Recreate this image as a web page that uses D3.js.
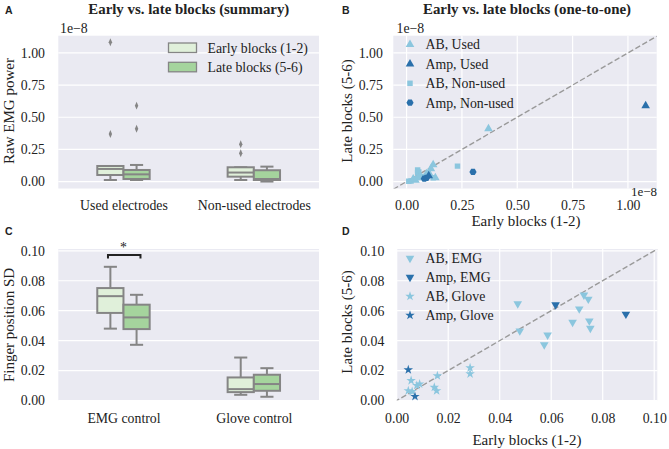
<!DOCTYPE html>
<html><head><meta charset="utf-8">
<script src="https://cdn.jsdelivr.net/npm/d3@7/dist/d3.min.js"></script>
<style>body{margin:0;background:#fff}svg{display:block}text{font-family:"Times New Roman","Liberation Serif",serif;fill:#222}</style>
</head><body>
<script>
// ---------- DATA ----------
const catsA = ["Used electrodes", "Non-used electrodes"];
const hues = ["Early blocks (1-2)", "Late blocks (5-6)"];
// box stats [low whisker, q1, median, q3, high whisker] (x1e-8)
const boxEarlyA = [[0.012, 0.051, 0.098, 0.121, 0.121], [0.012, 0.038, 0.07, 0.111, 0.111]];
const boxLateA  = [[0.012, 0.02, 0.056, 0.09, 0.129], [0.0, 0.012, 0.02, 0.088, 0.116]];
const outEarlyA = [[1.083, 0.37], [0.29, 0.22]];
const outLateA  = [[0.59, 0.41], []];
const ticksA = [0, 0.25, 0.5, 0.75, 1.0];

const catsC = ["EMG control", "Glove control"];
const boxEarlyC = [[0.048, 0.0585, 0.0697, 0.0751, 0.0893], [0.0038, 0.0056, 0.0076, 0.0154, 0.0287]];
const boxLateC  = [[0.0372, 0.0477, 0.0555, 0.064, 0.0706], [0.0025, 0.0065, 0.011, 0.0172, 0.0216]];
const ticksC = [0, 0.02, 0.04, 0.06, 0.08, 0.10];

// Panel B scatter (early, late) x1e-8
const bLabels = ["AB, Used", "Amp, Used", "AB, Non-used", "Amp, Non-used"];
const bABUsed = [[0.37,0.41],[0.12,0.13],[0.11,0.10],[0.10,0.07],[0.06,0.05],[0.05,0.03],[0.03,0.02],[0.09,0.06],[0.04,0.01],[0.13,0.03]];
const bAmpUsed = [[1.08,0.59],[0.10,0.045]];
const bABNon = [[0.23,0.12],[0.05,0.09],[0.05,0.07],[0.12,0.03],[0.02,0.005],[0.01,0.002],[0.04,0.02],[0.07,0.04],[0.055,0.075]];
const bAmpNon = [[0.30,0.075],[0.08,0.022],[0.09,0.028]];

// Panel D scatter (early, late)
const dLabels = ["AB, EMG", "Amp, EMG", "AB, Glove", "Amp, Glove"];
const dABEMG = [[0.047,0.0646],[0.0478,0.0465],[0.0727,0.0705],[0.0709,0.0612],[0.0744,0.0677],[0.0683,0.0523],[0.0748,0.0532],[0.0752,0.0483],[0.0586,0.0437],[0.0573,0.0372]];
const dAmpEMG = [[0.0617,0.0639],[0.089,0.0577]];
const dABGlove = [[0.0285,0.0218],[0.0285,0.0178],[0.0158,0.0165],[0.0146,0.0088],[0.0155,0.0065],[0.0056,0.0133],[0.0078,0.0100],[0.0089,0.0110],[0.0045,0.0065],[0.006,0.006]];
const dAmpGlove = [[0.0045,0.0205],[0.0071,0.0027]];

// ---------- STYLE ----------
const W = 669, H = 449;
const BG = "#eaeaf2", GRID = "#ffffff";
const EARLY = "#e0f0da", LATE = "#a5d49d", EDGE = "#858585";
const LIGHT = "#8bc6de", DARK = "#2a70ab";
const FS = "13.8px", FL = "15px";

const svg = d3.select("body").append("svg").attr("width", W).attr("height", H);
const defs = svg.append("defs");

function panelLetter(t, x, y) {
  svg.append("text").text(t).attr("x", x).attr("y", y)
    .style("font-family", "'Liberation Sans',Arial,sans-serif").style("font-weight", "bold").style("font-size", "10.5px");
}
function title(t, x, y, len) {
  svg.append("text").text(t).attr("x", x).attr("y", y).attr("text-anchor", "middle")
    .attr("textLength", len).attr("lengthAdjust", "spacingAndGlyphs")
    .style("font-weight", "bold").style("font-size", "15px");
}
function ylabel(t, x, y) {
  svg.append("text").text(t).attr("transform", `translate(${x},${y}) rotate(-90)`)
    .attr("text-anchor", "middle").style("font-size", FL);
}
function xlabel(t, x, y) {
  svg.append("text").text(t).attr("x", x).attr("y", y).attr("text-anchor", "middle").style("font-size", FL);
}
function bgRect(x, y) {
  const [x0, x1] = x.range(), [y0, y1] = y.range();
  svg.append("rect").attr("x", x0).attr("y", y1).attr("width", x1 - x0).attr("height", y0 - y1).attr("fill", BG);
}
function hgrid(x, y, ticks) {
  const [x0, x1] = x.range();
  svg.append("g").selectAll("line").data(ticks).join("line")
    .attr("x1", x0).attr("x2", x1).attr("y1", d => y(d)).attr("y2", d => y(d))
    .attr("stroke", GRID).attr("stroke-width", 1.2);
}
function vgrid(x, y, ticks) {
  const [y0, y1] = y.range();
  svg.append("g").selectAll("line").data(ticks).join("line")
    .attr("y1", y0).attr("y2", y1).attr("x1", d => x(d)).attr("x2", d => x(d))
    .attr("stroke", GRID).attr("stroke-width", 1.2);
}
function styleTicks(g) {
  g.select(".domain").remove();
  g.selectAll("text").style("font-size", FS).style("font-family", "'Times New Roman','Liberation Serif',serif").attr("fill", "#222");
}
function yAxis(x, y, ticks, fmt, dx) {
  const g = svg.append("g").attr("transform", `translate(${x.range()[0] - dx},0)`)
    .call(d3.axisLeft(y).tickValues(ticks).tickFormat(fmt).tickSize(0).tickPadding(0));
  styleTicks(g);
}
function xAxis(x, y, ticks, fmt, dy) {
  const g = svg.append("g").attr("transform", `translate(0,${y.range()[0] + dy})`)
    .call(d3.axisBottom(x).tickValues(ticks).tickFormat(fmt).tickSize(0).tickPadding(0));
  styleTicks(g);
}
function drawBox(g, cx, bw, s, fill, y) {
  const [lo, q1, med, q3, hi] = s;
  const x0 = cx - bw / 2, x1 = cx + bw / 2, cw = bw / 2;
  const ln = (a, b, c, d) => g.append("line").attr("x1", a).attr("y1", b).attr("x2", c).attr("y2", d)
    .attr("stroke", EDGE).attr("stroke-width", 2);
  ln(cx, y(q3), cx, y(hi));
  ln(cx, y(q1), cx, y(lo));
  ln(cx - cw / 2, y(hi), cx + cw / 2, y(hi));
  ln(cx - cw / 2, y(lo), cx + cw / 2, y(lo));
  g.append("rect").attr("x", x0).attr("y", y(q3)).attr("width", bw).attr("height", y(q1) - y(q3))
    .attr("fill", fill).attr("stroke", EDGE).attr("stroke-width", 2);
  ln(x0, y(med), x1, y(med));
}
function outliers(g, cx, vals, y) {
  g.selectAll(null).data(vals).join("path")
    .attr("d", d3.symbol(d3.symbolDiamond, 18)())
    .attr("transform", d => `translate(${cx},${y(d)}) scale(0.75,1)`)
    .attr("fill", EDGE);
}
const fmt2 = d3.format(".2f");

// ---------- PANEL A ----------
{
  const x = d3.scalePoint().domain(catsA).range([58.3, 319]).padding(0.5);
  const xr = d3.scaleLinear().range([58.3, 319]);
  const y = d3.scaleLinear().domain([-0.054, 1.134]).range([188.5, 35.7]);
  bgRect(xr, y); hgrid(xr, y, ticksA);
  const g = svg.append("g");
  const bw = 26.2;
  catsA.forEach((c, i) => {
    drawBox(g, x(c) - bw / 2, bw, boxEarlyA[i], EARLY, y);
    drawBox(g, x(c) + bw / 2, bw, boxLateA[i], LATE, y);
    outliers(g, x(c) - bw / 2, outEarlyA[i], y);
    outliers(g, x(c) + bw / 2, outLateA[i], y);
  });
  yAxis(xr, y, ticksA, fmt2, 13.3);
  const gx = svg.append("g").attr("transform", `translate(0,${188.5 + 12})`)
    .call(d3.axisBottom(x).tickSize(0).tickPadding(0));
  styleTicks(gx);
  svg.append("text").text("1e\u22128").attr("x", 60).attr("y", 33).style("font-size", FS);
  // legend
  const leg = svg.append("g");
  [EARLY, LATE].forEach((c, i) => {
    leg.append("rect").attr("x", 168.5).attr("y", 43 + i * 19.3).attr("width", 28).attr("height", 9.5)
      .attr("fill", c).attr("stroke", EDGE).attr("stroke-width", 1.3);
    leg.append("text").text(hues[i]).attr("x", 207.5).attr("y", 52.5 + i * 19.3).style("font-size", FS);
  });
  title("Early vs. late blocks (summary)", 188.8, 13.5, 201);
  ylabel("Raw EMG power", 14, 111);
  panelLetter("A", 5, 14);
}

// ---------- PANEL C ----------
{
  const x = d3.scalePoint().domain(catsC).range([58.3, 319]).padding(0.5);
  const xr = d3.scaleLinear().range([58.3, 319]);
  const y = d3.scaleLinear().domain([0, 0.1012]).range([400.5, 249]);
  bgRect(xr, y); hgrid(xr, y, ticksC);
  const g = svg.append("g");
  const bw = 26.2;
  catsC.forEach((c, i) => {
    drawBox(g, x(c) - bw / 2, bw, boxEarlyC[i], EARLY, y);
    drawBox(g, x(c) + bw / 2, bw, boxLateC[i], LATE, y);
  });
  yAxis(xr, y, ticksC, fmt2, 13.3);
  const gx = svg.append("g").attr("transform", `translate(0,${400.5 + 12.3})`)
    .call(d3.axisBottom(x).tickSize(0).tickPadding(0));
  styleTicks(gx);
  // significance bracket
  const cx0 = x(catsC[0]);
  const bx0 = cx0 - 15.5, bx1 = cx0 + 17;
  svg.append("path").attr("d", `M${bx0},${258.5}V${255}H${bx1}V${258.5}`)
    .attr("fill", "none").attr("stroke", "#222").attr("stroke-width", 2);
  svg.append("text").text("*").attr("x", cx0).attr("y", 252).attr("text-anchor", "middle").style("font-size", FS);
  ylabel("Finger position SD", 14, 325);
  panelLetter("C", 5, 235);
}

// scatter helpers
const triUp = d3.symbol(d3.symbolTriangle, 32)();
function hexPath(r) {
  const p = d3.range(6).map(i => { const a = Math.PI / 3 * i; return [r * Math.cos(a), r * Math.sin(a)]; });
  return "M" + p.map(q => q.join(",")).join("L") + "Z";
}
function drawPts(g, data, x, y, path, color, rot) {
  g.selectAll(null).data(data).join("path").attr("d", path)
    .attr("transform", d => `translate(${x(d[0])},${y(d[1])})${rot ? " rotate(180)" : ""}`)
    .attr("fill", color).attr("stroke", "none");
}
function diag(x, y, id) {
  const [x0, x1] = x.range(), [y0, y1] = y.range();
  defs.append("clipPath").attr("id", id).append("rect").attr("x", x0).attr("y", y1).attr("width", x1 - x0).attr("height", y0 - y1);
  const lo = Math.min(x.domain()[0], y.domain()[0]) - 1, hi = Math.max(x.domain()[1], y.domain()[1]) + 1;
  svg.append("line").attr("clip-path", `url(#${id})`)
    .attr("x1", x(lo)).attr("y1", y(lo)).attr("x2", x(hi)).attr("y2", y(hi))
    .attr("stroke", "#9a9a9a").attr("stroke-width", 1.4).attr("stroke-dasharray", "5.5,2.5");
}

// ---------- PANEL B ----------
{
  const x = d3.scaleLinear().domain([-0.06, 1.13]).range([393.3, 656.7]);
  const y = d3.scaleLinear().domain([-0.054, 1.134]).range([188.5, 35.7]);
  bgRect(x, y); hgrid(x, y, ticksA); vgrid(x, y, ticksA);
  diag(x, y, "clipB");
  const g = svg.append("g").attr("clip-path", "url(#clipB)");
  const sq = d3.symbol(d3.symbolSquare, 30)();
  const hx = hexPath(3.6);
  drawPts(g, bABNon, x, y, sq, LIGHT);
  drawPts(g, bABUsed, x, y, triUp, LIGHT);
  drawPts(g, bAmpNon, x, y, hx, DARK);
  drawPts(g, bAmpUsed, x, y, triUp, DARK);
  yAxis(x, y, ticksA, fmt2, 10.5);
  xAxis(x, y, ticksA, fmt2, 12);
  svg.append("text").text("1e\u22128").attr("x", 657).attr("y", 195.5).attr("text-anchor", "end").style("font-size", "13px");
  svg.append("text").text("1e\u22128").attr("x", 396.5).attr("y", 33).style("font-size", FS);
  const leg = svg.append("g");
  const paths = [triUp, triUp, sq, hx], cols = [LIGHT, DARK, LIGHT, DARK];
  bLabels.forEach((t, i) => {
    const yy = 44.5 + i * 19.4;
    leg.append("path").attr("d", paths[i]).attr("transform", `translate(410,${yy})`).attr("fill", cols[i]);
    leg.append("text").text(t).attr("x", 425.5).attr("y", yy + 4.8).style("font-size", FS);
  });
  title("Early vs. late blocks (one-to-one)", 527, 13.5, 208);
  ylabel("Late blocks (5-6)", 352, 111);
  xlabel("Early blocks (1-2)", 526, 226);
  panelLetter("B", 342, 14);
}

// ---------- PANEL D ----------
{
  const x = d3.scaleLinear().domain([0, 0.1012]).range([396.7, 657.3]);
  const y = d3.scaleLinear().domain([0, 0.1012]).range([400.5, 249]);
  bgRect(x, y); hgrid(x, y, ticksC); vgrid(x, y, ticksC);
  diag(x, y, "clipD");
  const g = svg.append("g");
  const star = d3.symbol(d3.symbolStar, 28)();
  drawPts(g, dABGlove, x, y, star, LIGHT);
  drawPts(g, dABEMG, x, y, triUp, LIGHT, true);
  drawPts(g, dAmpGlove, x, y, star, DARK);
  drawPts(g, dAmpEMG, x, y, triUp, DARK, true);
  yAxis(x, y, ticksC, fmt2, 12.4);
  xAxis(x, y, ticksC, fmt2, 12.3);
  const leg = svg.append("g");
  const paths = [triUp, triUp, star, star], cols = [LIGHT, DARK, LIGHT, DARK], rots = [1, 1, 0, 0];
  dLabels.forEach((t, i) => {
    const yy = 258.3 + i * 19;
    leg.append("path").attr("d", paths[i]).attr("transform", `translate(410,${yy})${rots[i] ? " rotate(180)" : ""}`).attr("fill", cols[i]);
    leg.append("text").text(t).attr("x", 425.5).attr("y", yy + 4.8).style("font-size", FS);
  });
  ylabel("Late blocks (5-6)", 352, 322);
  xlabel("Early blocks (1-2)", 527, 445);
  panelLetter("D", 342, 235);
}
</script>
</body></html>
